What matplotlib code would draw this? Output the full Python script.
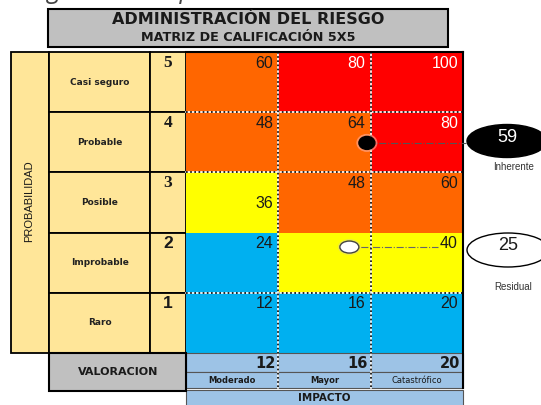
import matplotlib
matplotlib.use("Agg")
import matplotlib.pyplot as plt
from matplotlib.patches import Rectangle, Ellipse

# ---- data ----
titulo = "ADMINISTRACIÓN DEL RIESGO"
subtitulo = "MATRIZ DE CALIFICACIÓN 5X5"
prob_labels = ["Casi seguro", "Probable", "Posible", "Improbable", "Raro"]
prob_levels = [5, 4, 3, 2, 1]
impact_labels = ["Moderado", "Mayor", "Catastrófico"]
impact_values = [12, 16, 20]
# None = no label shown in that cell (hidden under the residual marker)
scores = [[60, 80, 100],
          [48, 64, 80],
          [36, 48, 60],
          [24, None, 40],
          [12, 16, 20]]
zones = [["A", "R", "R"],
         ["A", "A", "R"],
         ["Y", "A", "A"],
         ["B", "Y", "Y"],
         ["B", "B", "B"]]
inherente = 59
residual = 25
# marker positions in (column, row) cell units of the matrix
pos_inherente = (1.96, 1.51)
pos_residual = (1.77, 3.24)

zone_col = {"A": "#FF6600", "R": "#FF0000", "Y": "#FFFF00", "B": "#00B0F0"}
zone_txt = {"A": "#1a1a1a", "R": "white", "Y": "#1a1a1a", "B": "#1a1a1a"}
amarillo = "#FFE699"
gris = "#C0C0C0"
azul_claro = "#9DC3E6"

# ---- layout (pixels) ----
X0, CW = 186, 92.3      # matrix left, column width
Y0, RH = 52, 60.2       # matrix top, row height

def cx(c):
    return X0 + c * CW

def ry(r):
    return Y0 + r * RH

fig = plt.figure(figsize=(5.41, 4.05), dpi=100)
ax = fig.add_axes([0, 0, 1, 1])
ax.set_xlim(0, 541)
ax.set_ylim(405, 0)
ax.axis("off")

# cut-off line of text at the very top
ax.text(150, -8, "seguro de la operación", fontsize=18, style="italic",
        color="#444444", ha="center", va="center", family="Open Sans")

# title box
ax.add_patch(Rectangle((48, 8.5), 400, 38, fc=gris, ec="black", lw=1.5))
ax.text(248, 19, titulo, fontsize=11.5, weight="bold", ha="center", va="center",
        family="DejaVu Sans", color="#1a1a1a")
ax.text(248, 37.5, subtitulo, fontsize=9.2, weight="bold", ha="center", va="center",
        family="DejaVu Sans", color="#1a1a1a")

# probabilidad band
ax.add_patch(Rectangle((11, Y0), 38, 5 * RH, fc=amarillo, ec="black", lw=1.3))
ax.text(29, 201, "PROBABILIDAD", rotation=90, fontsize=8, ha="center", va="center",
        family="Liberation Sans", color="#1a1a1a")

num_fonts = ["Liberation Serif", "Liberation Serif", "Liberation Serif",
             "Liberation Sans", "Liberation Sans"]
for i, (lab, lev) in enumerate(zip(prob_labels, prob_levels)):
    ax.add_patch(Rectangle((49, ry(i)), 101, RH, fc=amarillo, ec="black", lw=1.3))
    ax.add_patch(Rectangle((150, ry(i)), 36, RH, fc=amarillo, ec="black", lw=1.3))
    ax.text(100, ry(i) + RH / 2, lab, fontsize=6.5, weight="bold", ha="center",
            va="center", color="#222222")
    ax.text(168, ry(i) + 11, str(lev), fontsize=12.5, weight="bold", ha="center",
            va="center", family=num_fonts[i], color="#1a1a1a")

# matrix cells
for i, row in enumerate(scores):
    for j, val in enumerate(row):
        z = zones[i][j]
        ax.add_patch(Rectangle((cx(j), ry(i)), CW, RH, fc=zone_col[z], ec="none"))
        if val is None:
            continue
        if i == 2 and j == 0:
            ty = ry(i) + 31
        else:
            ty = ry(i) + 11
        ax.text(cx(j + 1) - 5, ty, str(val), fontsize=11.5, ha="right", va="center",
                family="Liberation Sans", color=zone_txt[z])

# dotted grid lines
for r in [1, 2, 4]:
    ax.plot([cx(0), cx(3)], [ry(r), ry(r)], color="white", lw=1.2, zorder=3)
    ax.plot([cx(0), cx(3)], [ry(r), ry(r)], color="black", lw=1.2, ls=(0, (1, 1.5)), zorder=3)
for c in [1, 2]:
    ax.plot([cx(c), cx(c)], [ry(0), 388], color="white", lw=1.2, zorder=3)
    ax.plot([cx(c), cx(c)], [ry(0), 388], color="black", lw=1.2, ls=(0, (1, 1.5)), zorder=3)
ax.plot([cx(0), cx(3)], [ry(0), ry(0)], color="black", lw=1.5, zorder=4)
ax.plot([cx(3), cx(3)], [ry(0), 388], color="black", lw=1.5, zorder=4)

# valoracion / impacto rows
ax.add_patch(Rectangle((49, ry(5)), 137, 38, fc=gris, ec="black", lw=1.5, zorder=2))
ax.text(118, ry(5) + 19, "VALORACION", fontsize=8, weight="bold", ha="center",
        va="center", family="DejaVu Sans", color="#1a1a1a")
for j, (v, lab) in enumerate(zip(impact_values, impact_labels)):
    ax.add_patch(Rectangle((cx(j), ry(5)), CW, 19, fc=azul_claro, ec="#555555", lw=0.8))
    ax.add_patch(Rectangle((cx(j), ry(5) + 19), CW, 16, fc=azul_claro, ec="#555555", lw=0.8))
    ax.text(cx(j + 1) - 3, ry(5) + 10, str(v), fontsize=10.5, weight="bold", ha="right",
            va="center", family="DejaVu Sans", color="#1a1a1a")
    ax.text(cx(j) + CW / 2, ry(5) + 27.5, lab, fontsize=6, weight="bold" if j < 2 else "normal",
            ha="center", va="center", color="#1a1a1a")
ax.add_patch(Rectangle((cx(0), 390), 3 * CW, 20, fc=azul_claro, ec="#555555", lw=0.8))
ax.text(cx(1.5), 398, "IMPACTO", fontsize=7.5, weight="bold", ha="center", va="center",
        family="DejaVu Sans", color="#1a1a1a")

# risk markers and connectors
xi, yi = cx(pos_inherente[0]), ry(pos_inherente[1])
xr, yr = cx(pos_residual[0]), ry(pos_residual[1])
ax.plot([xi, 466], [yi, yi], color="#555555", lw=0.8, ls="-.", zorder=5)
ax.plot([xr, 438], [yr, yr], color="#666666", lw=0.8, ls="-.", zorder=5)
ax.add_patch(Ellipse((xi, yi), 21, 18, fc="#ffb0a0", ec="none", alpha=0.6, zorder=5))
ax.add_patch(Ellipse((xi, yi), 16, 13, fc="black", ec="black", zorder=6))
ax.add_patch(Ellipse((xr, yr), 23, 16, fc="#e8e060", ec="none", alpha=0.7, zorder=5))
ax.add_patch(Ellipse((xr, yr), 19, 12, fc="white", ec="#444444", lw=1, zorder=6))

# summary ellipses
ax.add_patch(Ellipse((507, 141), 80, 33, fc="black", ec="black", lw=1))
ax.text(507, 138, str(inherente), fontsize=13, color="white", ha="center", va="center",
        family="Liberation Sans")
ax.text(514, 167, "Inherente", fontsize=7, color="#333333", ha="center", va="center",
        family="Liberation Sans")
ax.add_patch(Ellipse((508, 250), 82, 34, fc="white", ec="black", lw=1))
ax.text(508, 246, str(residual), fontsize=13, color="#1a1a1a", ha="center", va="center",
        family="Liberation Sans")
ax.text(513, 287, "Residual", fontsize=7, color="#333333", ha="center", va="center",
        family="Liberation Sans")

fig.savefig("out.png", dpi=100)
